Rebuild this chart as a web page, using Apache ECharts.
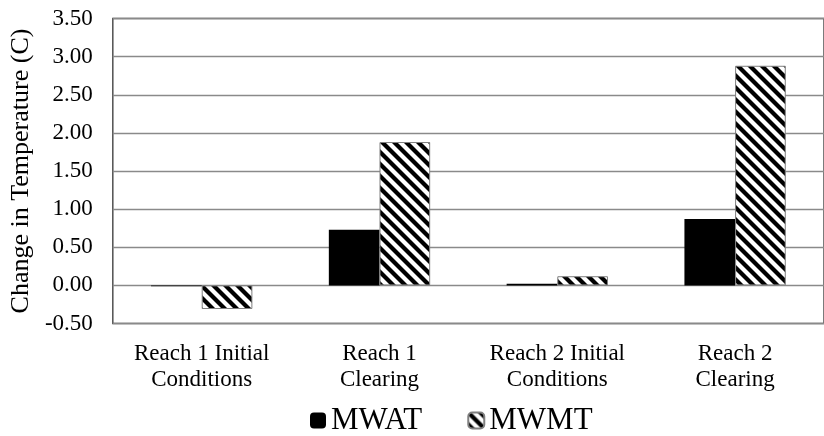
<!DOCTYPE html>
<html>
<head>
<meta charset="utf-8">
<script src="https://cdn.jsdelivr.net/npm/echarts@6/dist/echarts.min.js"></script>
<style>html,body{margin:0;padding:0;background:#fff}#c{width:824px;height:436px}</style>
</head>
<body>
<div id="c"></div>
<script>
var categories = ["Reach 1 Initial\nConditions", "Reach 1\nClearing", "Reach 2 Initial\nConditions", "Reach 2\nClearing"];
var mwat = [-0.01, 0.73, 0.02, 0.87];
var mwmt = [-0.31, 1.88, 0.12, 2.88];
var seriesNames = ["MWAT", "MWMT"];
var yMin = -0.5, yMax = 3.5, yStep = 0.5;

function hatch() {
  var s = 12;
  var cv = document.createElement('canvas');
  cv.width = s; cv.height = s;
  var g = cv.getContext('2d');
  g.fillStyle = '#fff'; g.fillRect(0, 0, s, s);
  g.strokeStyle = '#000'; g.lineWidth = 4.2; g.lineCap = 'square';
  [-s, 0, s].forEach(function (x0) {
    g.beginPath(); g.moveTo(x0, 0); g.lineTo(x0 + s, s); g.stroke();
  });
  return { image: cv, repeat: 'repeat' };
}

var font = '"Liberation Serif", "Times New Roman", serif';
var chart = echarts.init(document.getElementById('c'), null, { renderer: 'canvas' });
chart.setOption({
  animation: false,
  textStyle: { fontFamily: font },
  grid: { left: 111, width: 726, top: 18.5, bottom: 112.5, show: true, borderColor: '#505050', borderWidth: 1.5, containLabel: false },
  legend: {
    left: 310, top: 405, padding: 0, itemWidth: 16, itemHeight: 16, itemGap: 45,
    textStyle: { fontFamily: font, fontSize: 31, color: '#000' },
    data: seriesNames
  },
  xAxis: {
    type: 'category', data: categories,
    axisLine: { show: false, onZero: false }, axisTick: { show: false },
    axisLabel: { color: '#000', fontFamily: font, fontSize: 23, lineHeight: 26, margin: 17, interval: 0 }
  },
  yAxis: {
    type: 'value', min: yMin, max: yMax, interval: yStep,
    name: 'Change in Temperature (C)', nameLocation: 'middle', nameGap: 76,
    nameTextStyle: { color: '#000', fontFamily: font, fontSize: 26 },
    axisLine: { show: false }, axisTick: { show: false },
    axisLabel: { color: '#000', fontFamily: font, fontSize: 23, margin: 20, formatter: function (v) { return v.toFixed(2); } },
    splitLine: { lineStyle: { color: '#8a8a8a', width: 1.3 } }
  },
  series: [
    { name: seriesNames[0], type: 'bar', data: mwat, barGap: '0%', barCategoryGap: '43%',
      itemStyle: { color: '#000', borderColor: '#000', borderWidth: 0 } },
    { name: seriesNames[1], type: 'bar', data: mwmt, barGap: '0%', barCategoryGap: '43%',
      itemStyle: { color: hatch(), borderColor: '#7f7f7f', borderWidth: 1 } }
  ]
});
</script>
</body>
</html>
